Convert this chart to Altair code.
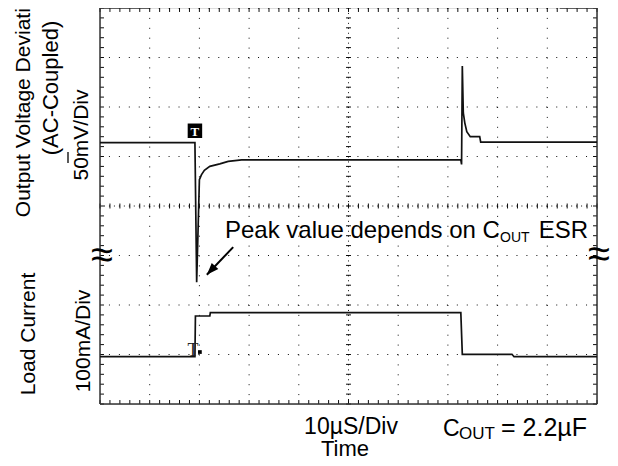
import altair as alt
import pandas as pd

# ---- values read from the scope shot ----
# time in microseconds (10 us/div, 10 divisions), amplitude in screen divisions from the bottom (8 divisions)
volt_t = [0, 19.1, 19.45, 19.7, 20.0, 20.4, 21.0, 22.1, 24.1, 25.8, 28.5,
          72.6, 72.75, 72.9, 73.1, 73.4, 73.8, 74.5, 76.4, 76.6, 100]
volt_v = [5.28, 5.28, 2.46, 3.4, 4.53, 4.63, 4.72, 4.80, 4.85, 4.90, 4.93,
          4.93, 4.84, 6.83, 5.88, 5.68, 5.50, 5.40, 5.40, 5.29, 5.29]
cur_t = [0, 19.1, 19.2, 22.1, 22.2, 72.6, 72.9, 82.9, 83.3, 100]
cur_v = [0.956, 0.956, 1.778, 1.778, 1.844, 1.844, 1.004, 1.004, 0.956, 0.956]

# graticule
major_x = [10, 20, 30, 40, 60, 70, 80, 90]
major_y = [1, 2, 3, 5, 6, 7, 8]
center_x = [50]
center_y = [4]
minor_x = [i * 2 for i in range(51)]
minor_y = [round(i * 0.2, 2) for i in range(41)]

# trigger markers (time, level)
trig_top = (19.1, 5.52)
trig_bottom = (18.7, 1.07)
# annotation arrow: tail -> tip
arrow_tail = (26.8, 3.17)
arrow_tip = (21.5, 2.61)

W, H = 497, 396
xs = alt.Scale(domain=[0, 100], nice=False, zero=False)
ys = alt.Scale(domain=[0, 8], nice=False, zero=False)
FONT = "Liberation Sans"
INK = "#111111"


def df(**cols):
    n = max(len(v) for v in cols.values() if isinstance(v, list))
    out = {}
    for k, v in cols.items():
        out[k] = v if isinstance(v, list) else [v] * n
    return pd.DataFrame(out)


def X(f):
    return alt.X(f, type="quantitative", scale=xs, axis=None)


def Y(f):
    return alt.Y(f, type="quantitative", scale=ys, axis=None)


one = pd.DataFrame({"a": [0]})
GRID = dict(color="#000", strokeWidth=1, opacity=0.95)

grid_v = alt.Chart(df(t=major_x)).mark_rule(strokeDash=[1, 8.9], **GRID).encode(x=X("t"))
grid_h = alt.Chart(df(v=major_y)).mark_rule(strokeDash=[1, 8.94], **GRID).encode(y=Y("v"))
cen_v = alt.Chart(df(t=center_x)).mark_rule(strokeDash=[1, 3.95], **GRID).encode(x=X("t"))
cen_h = alt.Chart(df(v=center_y)).mark_rule(strokeDash=[1, 3.97], **GRID).encode(y=Y("v"))

tick_h = alt.Chart(df(t=minor_x, a=3.95, b=4.05)).mark_rule(**GRID).encode(x=X("t"), y=Y("a"), y2="b")
tick_v = alt.Chart(df(v=minor_y, a=49.5, b=50.5)).mark_rule(**GRID).encode(y=Y("v"), x=X("a"), x2="b")
tick_l = alt.Chart(df(v=minor_y, a=0.0, b=0.8)).mark_rule(**GRID).encode(y=Y("v"), x=X("a"), x2="b")
tick_r = alt.Chart(df(v=minor_y, a=99.2, b=100.0)).mark_rule(**GRID).encode(y=Y("v"), x=X("a"), x2="b")
tick_b = alt.Chart(df(t=minor_x, a=0.0, b=0.08)).mark_rule(**GRID).encode(x=X("t"), y=Y("a"), y2="b")
tick_t = alt.Chart(df(t=minor_x, a=7.92, b=8.0)).mark_rule(**GRID).encode(x=X("t"), y=Y("a"), y2="b")

frame_lr = alt.Chart(df(t=[0.0, 100.0], a=0.0, b=8.0)).mark_rule(color="#333", strokeWidth=1.5).encode(
    x=X("t"), y=Y("a"), y2="b")
frame_b = alt.Chart(df(v=[0.0], a=0.0, b=100.0)).mark_rule(color="#333", strokeWidth=1.5).encode(
    y=Y("v"), x=X("a"), x2="b")
frame_t = alt.Chart(df(v=[8.0, 8.0], a=[0.0, 92.5], b=[10.0, 100.0])).mark_rule(color="#333", strokeWidth=1.5).encode(
    y=Y("v"), x=X("a"), x2="b")

volt = alt.Chart(df(t=volt_t, v=volt_v)).mark_line(color=INK, strokeWidth=1.7).encode(x=X("t"), y=Y("v"))
cur = alt.Chart(df(t=cur_t, v=cur_v)).mark_line(color=INK, strokeWidth=1.7).encode(x=X("t"), y=Y("v"))

trig_box = alt.Chart(df(t=[trig_top[0]], v=[trig_top[1]])).mark_square(size=210, color="#000", opacity=1).encode(
    x=X("t"), y=Y("v"))
trig_txt = alt.Chart(df(t=[trig_top[0]], v=[trig_top[1]])).mark_text(
    text="T", font="Liberation Serif", fontWeight="bold", fontSize=13, color="#fff", baseline="middle", dy=1).encode(
    x=X("t"), y=Y("v"))
trig2_txt = alt.Chart(df(t=[trig_bottom[0]], v=[trig_bottom[1]])).mark_text(
    text="T", font="Liberation Serif", fontSize=18, color="#222", baseline="middle").encode(x=X("t"), y=Y("v"))
trig2_dot = alt.Chart(df(t=[trig_bottom[0] + 1.4], v=[trig_bottom[1] - 0.02])).mark_square(
    size=14, color="#000", opacity=1).encode(x=X("t"), y=Y("v"))

arrow_shaft = alt.Chart(df(t=[arrow_tail[0]], v=[arrow_tail[1]], t2=[arrow_tip[0]], v2=[arrow_tip[1]])).mark_rule(
    color="#000", strokeWidth=2).encode(x=X("t"), y=Y("v"), x2="t2", y2="v2")
arrow_head = alt.Chart(df(t=[arrow_tip[0]], v=[arrow_tip[1]])).mark_point(
    shape="M0,0L0.6,1.6L-0.6,1.6Z", size=225, filled=True, color="#000", opacity=1, angle=223).encode(
    x=X("t"), y=Y("v"))


def txt(s, x, y, size, angle=0, align="center", baseline="alphabetic", font=FONT, color="#000"):
    return alt.Chart(one).mark_text(text=s, fontSize=size, angle=angle, align=align, baseline=baseline,
                                    font=font, color=color).encode(x=alt.value(x), y=alt.value(y))


texts = [
    txt("Output Voltage Deviation", -70, 93, 21, angle=270),
    txt("(AC-Coupled)", -42, 80, 22, angle=270),
    txt("50mV/Div", -12, 127, 21, angle=270),
    txt("Load Current", -65, 326, 21, angle=270),
    txt("100mA/Div", -10, 333, 21, angle=270),
    txt("Peak value depends on C", 125, 230, 24, align="left"),
    txt("OUT", 400, 234, 14, align="left"),
    txt("ESR", 488, 230, 24, align="right"),
    txt("10\u00b5S/Div", 251, 426, 23),
    txt("Time", 245, 448, 22),
    txt("C", 343, 428, 23, align="left"),
    txt("OUT", 359, 431, 17, align="left"),
    txt("= 2.2\u00b5F", 487, 428, 25, align="right"),
    txt("\u2248", 2, 248, 40, baseline="middle"),
    txt("\u2248", 499, 247, 40, baseline="middle"),
]
overbar = alt.Chart(one).mark_rule(color="#000", strokeWidth=1.3).encode(
    x=alt.value(-32), y=alt.value(144), y2=alt.value(155))

chart = alt.layer(
    grid_v, grid_h, cen_v, cen_h, tick_h, tick_v, tick_l, tick_r, tick_b, tick_t,
    frame_lr, frame_b, frame_t,
    volt, cur, trig_box, trig_txt, trig2_txt, trig2_dot, arrow_shaft, arrow_head,
    overbar, *texts,
).properties(
    width=W, height=H,
    padding={"left": 92, "top": 0, "right": 13, "bottom": 54},
    autosize=alt.AutoSizeParams(type="none"),
).configure_view(stroke=None).configure(background="white")

chart.save("out.html", embed_options={"renderer": "svg", "actions": False})
